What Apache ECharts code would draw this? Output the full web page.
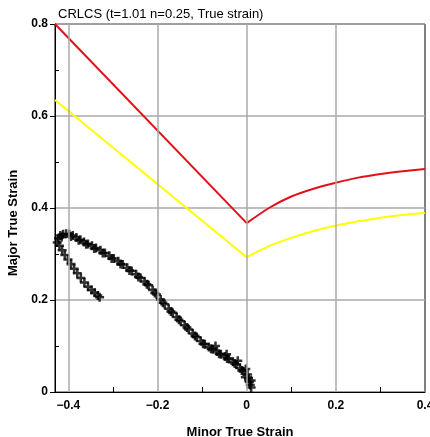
<!DOCTYPE html>
<html><head><meta charset="utf-8">
<script src="https://cdn.jsdelivr.net/npm/echarts@6/dist/echarts.min.js"></script>
<style>html,body{margin:0;padding:0;background:#fff}#c{width:430px;height:437px}</style>
</head><body><div id="c"></div>
<script>
const titleText = 'CRLCS (t=1.01 n=0.25, True strain)';
const xName = 'Minor True Strain';
const yName = 'Major True Strain';
const xTicks = [-0.4, -0.2, 0, 0.2, 0.4];
const xMinorTicks = [-0.3, -0.1, 0.1, 0.3];
const xGrid = [-0.4, -0.2, 0, 0.2];
const yMinorTicks = [0.1, 0.3, 0.5, 0.7];

// Forming limit curve (red): left straight branch, right curved branch
const flcLeftX = [-0.43, 0];
const flcLeftY = [0.80, 0.367];
const flcRightX = [0, 0.05, 0.1, 0.15, 0.2, 0.25, 0.3, 0.35, 0.4];
const flcRightY = [0.367, 0.400, 0.425, 0.442, 0.455, 0.466, 0.474, 0.480, 0.485];
// Safety curve (yellow)
const safeLeftX = [-0.43, 0];
const safeLeftY = [0.635, 0.293];
const safeRightX = [0, 0.05, 0.1, 0.15, 0.2, 0.25, 0.3, 0.35, 0.4];
const safeRightY = [0.293, 0.317, 0.335, 0.350, 0.362, 0.371, 0.379, 0.385, 0.389];

// Measured strains, main branch
const mainX = [-0.422,-0.418,-0.412,-0.405,-0.398,-0.390,-0.382,-0.373,-0.365,-0.356,-0.347,-0.338,-0.328,-0.318,-0.308,-0.298,-0.288,-0.278,-0.268,-0.258,-0.248,-0.238,-0.229,-0.220,-0.211,-0.202,-0.193,-0.184,-0.175,-0.166,-0.157,-0.148,-0.139,-0.130,-0.121,-0.112,-0.103,-0.094,-0.085,-0.076,-0.067,-0.058,-0.049,-0.040,-0.031,-0.023,-0.015,-0.008,-0.002,0.002,0.004,0.006,0.008,0.010,0.010,-0.003,-0.070,-0.045,-0.020,-0.415,-0.394,-0.377,-0.360,-0.342,-0.323,-0.303,-0.283,-0.263,-0.243,-0.224,-0.206,-0.188,-0.170,-0.152,-0.134,-0.116,-0.098,-0.080,-0.062,-0.044,-0.027,-0.011];
const mainY = [0.334,0.340,0.343,0.344,0.343,0.340,0.336,0.331,0.326,0.322,0.318,0.313,0.308,0.302,0.296,0.290,0.284,0.277,0.270,0.263,0.256,0.248,0.240,0.232,0.222,0.212,0.201,0.191,0.181,0.172,0.163,0.154,0.145,0.136,0.127,0.119,0.111,0.104,0.098,0.093,0.088,0.082,0.077,0.072,0.066,0.060,0.052,0.045,0.050,0.038,0.030,0.022,0.015,0.010,0.025,0.032,0.100,0.082,0.068,0.337,0.338,0.330,0.321,0.312,0.302,0.290,0.278,0.264,0.250,0.234,0.215,0.194,0.175,0.157,0.140,0.122,0.105,0.094,0.083,0.073,0.062,0.047];
// Measured strains, second branch
const sideX = [-0.425,-0.420,-0.414,-0.408,-0.401,-0.394,-0.387,-0.380,-0.372,-0.364,-0.356,-0.348,-0.341,-0.334,-0.330];
const sideY = [0.325,0.318,0.308,0.298,0.288,0.278,0.268,0.258,0.248,0.238,0.229,0.222,0.216,0.210,0.206];

const zip = (a, b) => a.map((v, i) => [v, b[i]]);
const plus = 'path://M3.6,0H6.4V3.6H10V6.4H6.4V10H3.6V6.4H0V3.6H3.6Z';
const font = 'Liberation Sans, Arial, sans-serif';

const chart = echarts.init(document.getElementById('c'), null, {renderer: 'canvas'});
chart.setOption({
  animation: false,
  backgroundColor: '#fff',
  title: {text: titleText, left: 53, top: 3, textStyle: {fontFamily: font, fontSize: 13, fontWeight: 'normal', color: '#000'}},
  grid: {left: 55, right: 5, top: 24, bottom: 45, outerBoundsMode: 'none', containLabel: false,
    show: true, borderColor: '#000', borderWidth: 1, backgroundColor: 'transparent'},
  xAxis: [{
    type: 'value', min: -0.43, max: 0.4, position: 'bottom',
    name: xName, nameLocation: 'middle', nameGap: 34,
    nameTextStyle: {fontFamily: font, fontSize: 13, fontWeight: 'bold', color: '#000'},
    axisLine: {show: true, onZero: false, lineStyle: {color: '#000', width: 1}},
    axisTick: {show: false},
    axisLabel: {customValues: xTicks, fontFamily: font, fontSize: 12, fontWeight: 'bold', color: '#000', margin: 8,
      hideOverlap: false,
      formatter: v => (Math.abs(v) < 1e-9 ? '0' : String(+v.toFixed(1)).replace('-', '\u2212'))},
    splitLine: {show: false}
  }, {
    type: 'value', min: -0.43, max: 0.4, position: 'bottom',
    axisLine: {show: false, onZero: false},
    axisTick: {show: true, inside: true, customValues: xMinorTicks, length: 5, lineStyle: {color: '#000'}},
    axisLabel: {show: false},
    splitLine: {show: false}
  }],
  yAxis: [{
    type: 'value', min: 0, max: 0.8, interval: 0.2, position: 'left',
    name: yName, nameLocation: 'middle', nameGap: 30, nameRotate: 90,
    nameTextStyle: {fontFamily: font, fontSize: 13, fontWeight: 'bold', color: '#000', padding: [0, 0, 0, -30]},
    axisLine: {show: true, onZero: false, lineStyle: {color: '#000', width: 1}},
    axisTick: {show: true, length: 5, lineStyle: {color: '#000'}},
    axisLabel: {fontFamily: font, fontSize: 12, fontWeight: 'bold', color: '#000', margin: 7,
      formatter: v => (v === 0 ? '0' : v.toFixed(1))},
    splitLine: {show: true, lineStyle: {color: '#aaa', width: 1.5}}
  }, {
    type: 'value', min: 0, max: 0.8, position: 'left',
    axisLine: {show: false, onZero: false},
    axisTick: {show: true, inside: true, customValues: yMinorTicks, length: 4, lineStyle: {color: '#000'}},
    axisLabel: {show: false},
    splitLine: {show: false}
  }],
  series: [{
    type: 'line', data: [], silent: true,
    markLine: {silent: true, symbol: 'none', label: {show: false},
      lineStyle: {color: '#aaa', width: 1.5, type: 'solid'},
      data: xGrid.map(v => ({xAxis: v}))},
    z: 1
  }, {
    name: 'FLC', type: 'line', data: zip(flcLeftX, flcLeftY), showSymbol: false,
    lineStyle: {color: '#e3101a', width: 2}, z: 3
  }, {
    name: 'FLC2', type: 'line', data: zip(flcRightX, flcRightY), smooth: 0.3, showSymbol: false,
    lineStyle: {color: '#e3101a', width: 2}, z: 3
  }, {
    name: 'Safe', type: 'line', data: zip(safeLeftX, safeLeftY), showSymbol: false,
    lineStyle: {color: '#ffff00', width: 2}, z: 3
  }, {
    name: 'Safe2', type: 'line', data: zip(safeRightX, safeRightY), smooth: 0.3, showSymbol: false,
    lineStyle: {color: '#ffff00', width: 2}, z: 3
  }, {
    name: 'Main', type: 'scatter', data: zip(mainX, mainY), symbol: plus, symbolSize: 9,
    itemStyle: {color: '#000'}, z: 4
  }, {
    name: 'Side', type: 'scatter', data: zip(sideX, sideY), symbol: plus, symbolSize: 9,
    itemStyle: {color: '#000'}, z: 4
  }]
});
</script></body></html>
